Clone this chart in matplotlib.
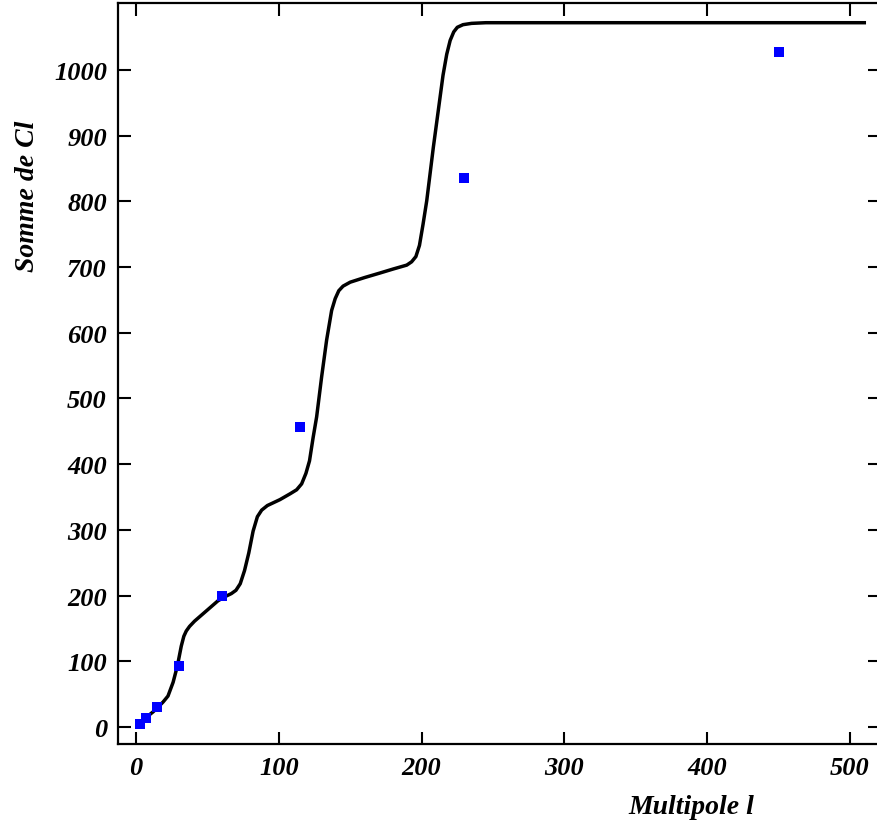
import matplotlib.pyplot as plt

# cumulative curve
curve_l = [2, 3.3, 8, 12, 15.4, 19, 22.4, 26, 29, 31.7, 33.5, 35.2, 37.5, 41,
           50, 57.4, 63, 66.8, 70, 73, 76, 79, 82, 85, 88, 92, 100.8, 108,
           112.5, 116, 119, 121.5, 124, 126.5, 130, 133.5, 137, 139.5, 142,
           145, 150, 160, 170.9, 180, 189.6, 193, 196, 198.5, 201, 203.6,
           208.2, 212.9, 215, 217.6, 220, 222.5, 225, 229, 235, 245, 260, 510]
curve_sum = [3, 7, 16, 23, 30, 38, 47, 68, 93, 123, 138, 146, 153, 161,
             178, 192, 199, 203, 208, 218, 238, 265, 298, 320, 330, 337, 346, 355,
             361, 370, 386, 405, 440, 472, 533, 589, 634, 652, 664,
             671, 677, 684, 691, 697, 703, 708, 716, 733, 765, 801,
             882, 958, 992, 1024, 1045, 1058, 1065, 1069, 1071, 1072, 1072, 1072]

# binned points (blue squares)
point_l = [3, 7, 15, 30, 60, 115, 230, 450]
point_sum = [5, 14, 31, 93, 200, 457, 835, 1028]

x_ticks = [0, 100, 200, 300, 400, 500]
y_ticks = [0, 100, 200, 300, 400, 500, 600, 700, 800, 900, 1000]

plt.rcParams['font.family'] = ['Liberation Serif', 'DejaVu Serif']

fig = plt.figure(figsize=(8.78, 8.28), dpi=100)
ax = fig.add_axes([118 / 878, 83 / 828, 762 / 878, 741 / 828])

ax.plot(curve_l, curve_sum, color='black', linewidth=2.5,
        solid_joinstyle='round')
ax.plot(point_l, point_sum, linestyle='none', marker='s', markersize=7.2,
        color='#0000ff', markeredgewidth=0)

ax.set_xlim(-12.6, 521)
ax.set_ylim(-26, 1102)
ax.set_xticks(x_ticks)
ax.set_yticks(y_ticks)

tick_font = dict(fontsize=19, fontweight='bold', fontstyle='italic')
ax.set_xticklabels([str(v) for v in x_ticks], **tick_font)
ax.set_yticklabels([str(v) for v in y_ticks], **tick_font)
ax.tick_params(direction='in', length=9, width=1.5, top=True, right=True, pad=9)
ax.tick_params(axis='y', pad=8)

for sp in ax.spines.values():
    sp.set_linewidth(1.6)

fig.text(691 / 878, 1 - 808 / 828, 'Multipole l', ha='center', va='center',
         fontsize=20, fontweight='bold', fontstyle='italic')
fig.text(28 / 878, 1 - 196 / 828, 'Somme de Cl', ha='center', va='center',
         rotation=90, fontsize=20, fontweight='bold', fontstyle='italic')

plt.savefig('out.png', dpi=100)
